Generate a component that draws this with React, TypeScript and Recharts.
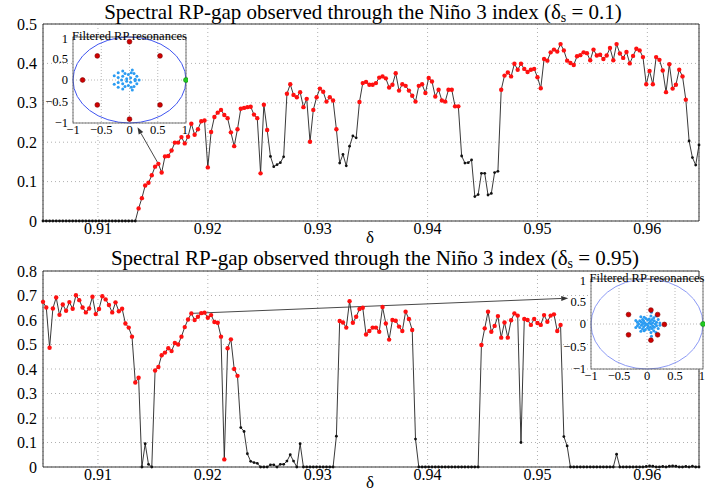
import {
  CartesianGrid,
  Line,
  LineChart,
  ReferenceArea,
  ReferenceLine,
  Scatter,
  ScatterChart,
  XAxis,
  YAxis,
} from "recharts";

// delta sampling of the scan
const DELTA_START = 0.905;
const DELTA_STEP = 0.0003;
const DELTA_END = 0.9647;

// spectral RP-gap, delta_s = 0.1
const topGap = [
  0, 0, 0, 0, 0, 0, 0, 0, 0, 0, 0, 0, 0, 0, 0, 0, 0, 0, 0, 0, 0, 0, 0, 0, 0, 0, 0, 0, 0,
  0.032, 0.058, 0.09, 0.097, 0.116, 0.138, 0.145, 0.123, 0.164, 0.165,
  0.179, 0.199, 0.199, 0.213, 0.197, 0.214, 0.247, 0.219, 0.233, 0.253,
  0.255, 0.136, 0.226, 0.264, 0.275, 0.282, 0.269, 0.261, 0.225, 0.19,
  0.233, 0.285, 0.287, 0.289, 0.29, 0.27, 0.261, 0.121, 0.295, 0.231,
  0.164, 0.138, 0.143, 0.148, 0.163, 0.323, 0.347, 0.32, 0.314, 0.327,
  0.289, 0.31, 0.201, 0.282, 0.314, 0.336, 0.328, 0.303, 0.314, 0.306,
  0.233, 0.147, 0.169, 0.14, 0.19, 0.216, 0.211, 0.302, 0.35, 0.353,
  0.346, 0.346, 0.35, 0.364, 0.367, 0.362, 0.339, 0.346, 0.375, 0.331,
  0.347, 0.343, 0.331, 0.318, 0.303, 0.343, 0.347, 0.325, 0.363, 0.354,
  0.316, 0.333, 0.306, 0.303, 0.333, 0.333, 0.291, 0.291, 0.165, 0.147,
  0.148, 0.155, 0.062, 0.067, 0.121, 0.121, 0.066, 0.07, 0.123, 0.126,
  0.333, 0.369, 0.377, 0.367, 0.399, 0.384, 0.399, 0.386, 0.378, 0.384,
  0.386, 0.365, 0.337, 0.411, 0.407, 0.428, 0.435, 0.43, 0.449, 0.433,
  0.407, 0.401, 0.396, 0.418, 0.421, 0.428, 0.426, 0.408, 0.435, 0.42,
  0.422, 0.411, 0.42, 0.439, 0.408, 0.449, 0.425, 0.414, 0.429, 0.4,
  0.419, 0.437, 0.433, 0.416, 0.347, 0.381, 0.347, 0.416, 0.409, 0.382,
  0.327, 0.398, 0.336, 0.346, 0.384, 0.367, 0.308, 0.203, 0.161, 0.142,
  0.193,
];
// index runs drawn with black markers (no resonance detected)
const topBlackRuns = [[0, 28], [69, 73], [90, 95], [127, 138], [196, 199]];

// spectral RP-gap, delta_s = 0.95
const bottomGap = [
  0.674, 0.651, 0.487, 0.647, 0.692, 0.621, 0.663, 0.638, 0.673, 0.646,
  0.701, 0.681, 0.651, 0.631, 0.647, 0.695, 0.624, 0.645, 0.697, 0.684,
  0.661, 0.631, 0.672, 0.636, 0.646, 0.586, 0.569, 0.532, 0.345, 0.364,
  0, 0.095, 0.011, 0, 0.394, 0.408, 0.456, 0.467, 0.485, 0.473,
  0.506, 0.5, 0.532, 0.571, 0.602, 0.627, 0.6, 0.613, 0.628, 0.63,
  0.609, 0.62, 0.592, 0.589, 0.532, 0.031, 0.485, 0.521, 0.4, 0.372,
  0.161, 0.145, 0.054, 0.023, 0.018, 0.015, 0, 0, 0, 0.009,
  0.009, 0, 0.011, 0.011, 0.024, 0.05, 0.024, 0, 0.095, 0,
  0, 0, 0, 0, 0, 0, 0, 0, 0, 0.126,
  0.596, 0.59, 0.569, 0.677, 0.589, 0.613, 0.645, 0.65, 0.541, 0.555,
  0.569, 0.569, 0.552, 0.653, 0.586, 0.52, 0.6, 0.597, 0.573, 0.555,
  0.634, 0.604, 0.559, 0.114, 0, 0, 0, 0, 0, 0,
  0, 0, 0, 0, 0, 0, 0, 0, 0, 0,
  0, 0, 0, 0.498, 0.566, 0.634, 0.552, 0.576, 0.616, 0.528,
  0.59, 0.528, 0.599, 0.627, 0.618, 0.1, 0.604, 0.6, 0.58, 0.604,
  0.588, 0.58, 0.62, 0.593, 0.618, 0.623, 0.555, 0.58, 0.124, 0.086,
  0, 0, 0, 0, 0, 0, 0, 0, 0, 0,
  0, 0, 0, 0, 0.052, 0, 0, 0, 0, 0,
  0, 0, 0, 0.002, 0.004, 0.003, 0, 0, 0.002, 0,
  0.003, 0.004, 0.003, 0, 0, 0.002, 0, 0.003, 0, 0,
];
const bottomBlackRuns = [[30, 33], [60, 89], [113, 132], [145, 145], [158, 199]];

const deltaTicks = [0.91, 0.92, 0.93, 0.94, 0.95, 0.96];
const topYTicks = [0, 0.05, 0.1, 0.15, 0.2, 0.25, 0.3, 0.35, 0.4, 0.45, 0.5];
const bottomYTicks = [0, 0.1, 0.2, 0.3, 0.4, 0.5, 0.6, 0.7, 0.8];
const insetTicks = [-1, -0.5, 0, 0.5, 1];

// inset: filtered RP resonances in the complex plane
const topResonances = [
  { x: 0, y: 0.89 }, { x: 0.54, y: 0.56 }, { x: -0.57, y: 0.56 }, { x: -0.83, y: 0 },
  { x: -0.57, y: -0.58 }, { x: 0.54, y: -0.58 }, { x: 0, y: -0.91 },
];
const topCloud = [
  { x: -0.27, y: 0.1 }, { x: -0.27, y: -0.1 }, { x: -0.2, y: 0.17 }, { x: -0.2, y: -0.17 },
  { x: -0.2, y: 0.06 }, { x: -0.2, y: -0.06 }, { x: -0.12, y: 0.21 }, { x: -0.12, y: -0.21 },
  { x: -0.12, y: 0.09 }, { x: -0.12, y: -0.09 }, { x: -0.05, y: 0.03 }, { x: -0.05, y: -0.03 },
  { x: -0.02, y: 0.13 }, { x: -0.02, y: -0.13 }, { x: 0.02, y: 0.05 }, { x: 0.02, y: -0.05 },
  { x: 0.05, y: 0.23 }, { x: 0.05, y: -0.23 }, { x: 0.08, y: 0.15 }, { x: 0.08, y: -0.15 },
  { x: 0.13, y: 0.09 }, { x: 0.13, y: -0.09 }, { x: 0.1, y: 0.02 }, { x: 0.1, y: -0.02 },
  { x: -0.08, y: 0.15 }, { x: -0.08, y: -0.15 }, { x: 0.17, y: 0 }, { x: -0.14, y: 0 },
  { x: 0.03, y: 0.17 }, { x: 0.03, y: -0.17 },
];
const bottomResonances = [
  { x: 0.07, y: 0.31 }, { x: 0.19, y: 0.21 }, { x: 0.31, y: -0.01 }, { x: 0.19, y: -0.24 },
  { x: 0.07, y: -0.36 }, { x: -0.33, y: 0.21 }, { x: -0.33, y: -0.24 },
];
const bottomCloud = [
  { x: 0, y: 0 }, { x: 0.04, y: 0.02 }, { x: -0.04, y: 0.03 }, { x: 0.02, y: -0.04 },
  { x: -0.03, y: -0.03 }, { x: 0.07, y: 0 }, { x: -0.07, y: 0.01 }, { x: 0.06, y: 0.06 },
  { x: -0.06, y: 0.07 }, { x: 0.06, y: -0.07 }, { x: -0.06, y: -0.06 }, { x: 0.1, y: 0.03 },
  { x: 0.1, y: -0.04 }, { x: -0.1, y: 0.04 }, { x: -0.1, y: -0.03 }, { x: 0.01, y: 0.09 },
  { x: 0.01, y: -0.09 }, { x: -0.02, y: 0.12 }, { x: 0.04, y: 0.11 }, { x: 0.04, y: -0.12 },
  { x: -0.03, y: -0.12 }, { x: 0.13, y: 0.07 }, { x: 0.13, y: -0.07 }, { x: -0.13, y: 0.07 },
  { x: -0.13, y: -0.08 }, { x: 0.15, y: 0 }, { x: -0.15, y: 0 }, { x: 0.09, y: 0.1 },
  { x: 0.09, y: -0.1 }, { x: -0.08, y: 0.1 }, { x: -0.08, y: -0.11 }, { x: 0.17, y: 0.04 },
  { x: 0.17, y: -0.04 }, { x: -0.17, y: 0.04 }, { x: -0.17, y: -0.04 }, { x: 0.12, y: 0.14 },
  { x: 0.12, y: -0.15 }, { x: -0.05, y: 0.15 }, { x: -0.05, y: -0.15 }, { x: 0.07, y: 0.18 },
  { x: 0.07, y: -0.19 }, { x: 0.2, y: 0.1 }, { x: 0.2, y: -0.1 }, { x: 0.08, y: 0.26 },
  { x: 0.08, y: -0.27 }, { x: 0.16, y: 0.18 }, { x: 0.16, y: -0.19 }, { x: -0.2, y: 0.08 },
  { x: -0.2, y: -0.08 }, { x: 0.23, y: 0.02 }, { x: 0.23, y: -0.03 }, { x: -0.11, y: 0.16 },
  { x: -0.11, y: -0.16 },
];
const unitEigen = [{ x: 1, y: 0 }];

// annotation arrows: from a sample on the curve to the inset
const topArrow = { fromIndex: 35, toDelta: 0.9136, toGap: 0.238 };
const bottomArrow = { fromIndex: 45, toDelta: 0.9528, toGap: 0.689 };

const FONT = '"Liberation Serif", "Times New Roman", serif';

const buildRows = (gap: number[], runs: number[][]) =>
  gap.map((g, i) => ({
    delta: DELTA_START + i * DELTA_STEP,
    gap: g,
    black: runs.some(([a, b]) => i >= a && i <= b),
  }));

const topRows = buildRows(topGap, topBlackRuns);
const bottomRows = buildRows(bottomGap, bottomBlackRuns);

const renderDot = (p: any) => {
  const { cx, cy, payload, index } = p;
  if (payload.black) {
    return <circle key={index} cx={cx} cy={cy} r={1.4} fill="#111" />;
  }
  return <circle key={index} cx={cx} cy={cy} r={2.2} fill="#ff1010" />;
};

const ArrowShape = (p: any) => {
  const { x1, y1, x2, y2 } = p;
  const ang = Math.atan2(y2 - y1, x2 - x1);
  const len = 7;
  const half = 2.6;
  const bx = x2 - len * Math.cos(ang);
  const by = y2 - len * Math.sin(ang);
  const nx = -Math.sin(ang) * half;
  const ny = Math.cos(ang) * half;
  return (
    <g>
      <line x1={x1} y1={y1} x2={bx} y2={by} stroke="#333" strokeWidth={0.9} />
      <polygon
        points={`${x2},${y2} ${bx + nx},${by + ny} ${bx - nx},${by - ny}`}
        fill="#333"
      />
    </g>
  );
};

interface PanelProps {
  rows: { delta: number; gap: number; black: boolean }[];
  yMax: number;
  yTicks: number[];
  height: number;
  marginTop: number;
  arrow: { fromIndex: number; toDelta: number; toGap: number };
}

const axisTick = { fontSize: 16, fill: "#000", fontFamily: FONT };

const GapPanel = ({ rows, yMax, yTicks, height, marginTop, arrow }: PanelProps) => {
  const from = rows[arrow.fromIndex];
  return (
    <LineChart
      width={705}
      height={height}
      data={rows}
      margin={{ top: marginTop, right: 6, bottom: 0, left: 0 }}
    >
      <CartesianGrid stroke="#b0b0b0" strokeDasharray="1 3" />
      <XAxis
        type="number"
        dataKey="delta"
        domain={[DELTA_START, DELTA_END]}
        ticks={deltaTicks}
        axisLine={false}
        tickLine={false}
        tickSize={2}
        tickMargin={0}
        height={24}
        tick={axisTick}
      />
      <YAxis
        type="number"
        domain={[0, yMax]}
        ticks={yTicks}
        axisLine={false}
        tickLine={false}
        tickSize={3}
        tickMargin={3}
        width={43}
        tick={axisTick}
        tickFormatter={(v: number) => String(v)}
      />
      <ReferenceArea
        x1={DELTA_START}
        x2={DELTA_END}
        y1={0}
        y2={yMax}
        fill="none"
        stroke="#333"
        strokeWidth={1}
        fillOpacity={0}
      />
      <Line
        dataKey="gap"
        stroke="#222"
        strokeWidth={0.9}
        dot={renderDot}
        activeDot={false}
        isAnimationActive={false}
      />
      <ReferenceLine
        segment={[
          { x: from.delta, y: from.gap },
          { x: arrow.toDelta, y: arrow.toGap },
        ]}
        shape={ArrowShape}
        ifOverflow="visible"
      />
    </LineChart>
  );
};

const InsetFrame = (circleColor: string) => (p: any) => (
  <g>
    <ellipse
      cx={p.x + p.width / 2}
      cy={p.y + p.height / 2}
      rx={p.width / 2}
      ry={p.height / 2}
      fill="none"
      stroke={circleColor}
      strokeWidth={1}
    />
    <rect x={p.x} y={p.y} width={p.width} height={p.height} fill="none" stroke="#555" strokeWidth={0.8} />
  </g>
);

const dotShape = (r: number, fill: string, stroke = "none") => (p: any) => (
  <circle cx={p.cx} cy={p.cy} r={r} fill={fill} stroke={stroke} strokeWidth={0.6} />
);

interface InsetProps {
  left: number;
  top: number;
  plotW: number;
  plotH: number;
  resonances: { x: number; y: number }[];
  cloud: { x: number; y: number }[];
  circleColor: string;
}

const insetTick = { fontSize: 12.5, fill: "#000", fontFamily: FONT };

const ResonanceInset = ({ left, top, plotW, plotH, resonances, cloud, circleColor }: InsetProps) => (
  <div style={{ position: "absolute", left: left - 28, top: top - 6 }}>
    <div
      style={{
        position: "absolute",
        left: 22,
        top: -1,
        width: plotW + 12,
        textAlign: "center",
        fontSize: 12.5,
        lineHeight: "13px",
        whiteSpace: "nowrap",
        zIndex: 2,
      }}
    >
      Filtered RP resonances
    </div>
    <ScatterChart width={28 + plotW + 2} height={6 + plotH + 16} margin={{ top: 6, right: 2, bottom: 0, left: 0 }}>
      <CartesianGrid fill="#fff" stroke="#b8b8b8" strokeDasharray="1 2" />
      <XAxis
        type="number"
        dataKey="x"
        domain={[-1, 1]}
        ticks={insetTicks}
        axisLine={false}
        tickLine={false}
        tickSize={2}
        tickMargin={0}
        height={16}
        tick={insetTick}
        tickFormatter={(v: number) => String(v).replace("-", "\u2212")}
      />
      <YAxis
        type="number"
        dataKey="y"
        domain={[-1, 1]}
        ticks={insetTicks}
        axisLine={false}
        tickLine={false}
        tickSize={3}
        tickMargin={2}
        width={28}
        tick={insetTick}
        tickFormatter={(v: number) => String(v).replace("-", "\u2212")}
      />
      <ReferenceArea x1={-1} x2={1} y1={-1} y2={1} shape={InsetFrame(circleColor)} />
      <Scatter data={cloud} shape={dotShape(1.5, "#2b9cf2")} isAnimationActive={false} />
      <Scatter data={resonances} shape={dotShape(2.4, "#d00000", "#800000")} isAnimationActive={false} />
      <Scatter data={unitEigen} shape={dotShape(2.5, "#22cc22", "#118811")} isAnimationActive={false} />
    </ScatterChart>
  </div>
);

const Title = ({ center, top, value }: { center: number; top: number; value: string }) => (
  <div
    style={{
      position: "absolute",
      left: center - 400,
      width: 800,
      top,
      textAlign: "center",
      fontSize: 21,
      lineHeight: "21px",
      whiteSpace: "nowrap",
    }}
  >
    Spectral RP-gap observed through the Niño 3 index (δ
    <sub style={{ fontSize: 14, verticalAlign: "-3px" }}>s</sub> = {value})
  </div>
);

const DeltaLabel = ({ top }: { top: number }) => (
  <div style={{ position: "absolute", left: 366, top, fontSize: 17, lineHeight: "15px" }}>δ</div>
);

export default function App() {
  return (
    <div
      style={{
        position: "absolute",
        left: 0,
        top: 0,
        width: 705,
        height: 491,
        overflow: "hidden",
        background: "#fff",
        fontFamily: FONT,
      }}
    >
      <style>{`.recharts-wrapper text, .recharts-text { font-family: ${FONT}; }`}</style>
      <div style={{ position: "absolute", left: 0, top: 0 }}>
        <GapPanel rows={topRows} yMax={0.5} yTicks={topYTicks} height={245} marginTop={24} arrow={topArrow} />
      </div>
      <div style={{ position: "absolute", left: 0, top: 245 }}>
        <GapPanel rows={bottomRows} yMax={0.8} yTicks={bottomYTicks} height={246} marginTop={26} arrow={bottomArrow} />
      </div>
      <Title center={363} top={2} value="0.1" />
      <Title center={375} top={248} value="0.95" />
      <DeltaLabel top={230} />
      <DeltaLabel top={475} />
      <ResonanceInset
        left={73}
        top={37}
        plotW={113}
        plotH={86}
        resonances={topResonances}
        cloud={topCloud}
        circleColor="#4055f0"
      />
      <ResonanceInset
        left={591}
        top={279}
        plotW={112}
        plotH={90}
        resonances={bottomResonances}
        cloud={bottomCloud}
        circleColor="#8c9af5"
      />
    </div>
  );
}
